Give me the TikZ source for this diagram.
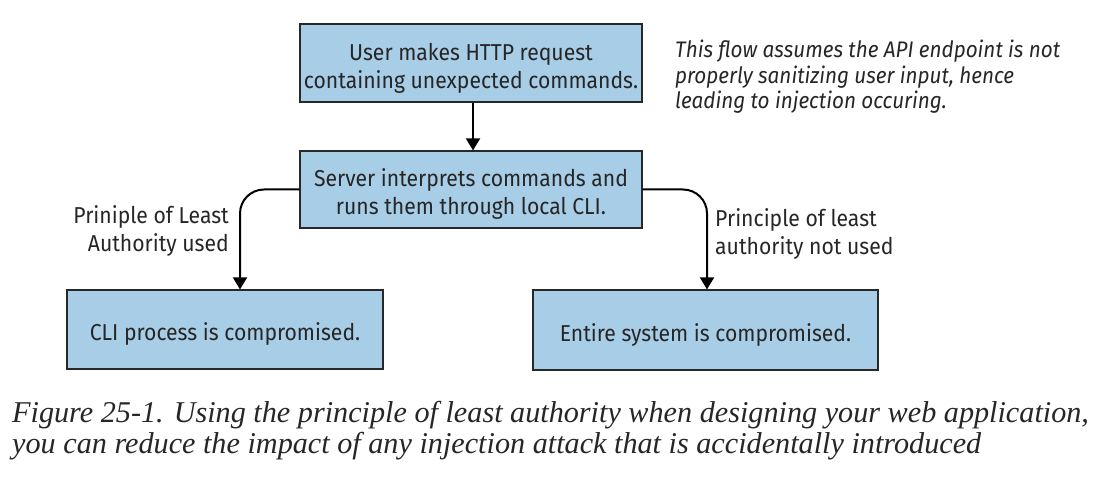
\documentclass[tikz,border=0pt]{standalone}
\usepackage{fontspec}
\setmainfont{Fira Sans}[FakeStretch=0.92]
\newfontfamily\capfont{Liberation Serif}
\usetikzlibrary{arrows.meta}
\definecolor{boxblue}{RGB}{168,205,230}
\definecolor{edge}{RGB}{40,40,40}
\newcommand\myupstrut{\rule{0pt}{27pt}}
\tikzset{
  box/.style={draw=edge, line width=1.2pt, fill=boxblue, align=center, inner sep=0pt,
    font=\fontsize{23}{28}\selectfont, text=black!85},
  conn/.style={line width=2pt, -{Triangle[width=14pt,length=12pt]}},
  lbl/.style={font=\fontsize{23}{28}\selectfont, inner sep=0pt, text=black!85},
}
\begin{document}
\begin{tikzpicture}[x=1pt,y=-1pt]
\useasboundingbox (0,0) rectangle (1110,489);
\node[box, minimum width=342pt, minimum height=78pt] (b1) at (471,63) {\myupstrut User makes HTTP request\\containing unexpected commands.};
\node[box, minimum width=342pt, minimum height=77pt] (b2) at (471,189.5) {\myupstrut Server interprets commands and\\runs them through local CLI.};
\node[box, minimum width=316pt, minimum height=79pt] (b3) at (225,329.5) {\myupstrut CLI process is compromised.};
\node[box, minimum width=345pt, minimum height=80pt] (b4) at (705.5,330) {\myupstrut Entire system is compromised.};
\coordinate (lt) at (240,189.5);
\coordinate (rt) at (707,189.5);
\draw[conn] (b1.south -| 473,0) -- (b2.north -| 473,0);
\draw[conn, rounded corners=24pt] (b2.west) -- (lt) -- (b3.north -| lt);
\draw[conn, rounded corners=24pt] (b2.east) -- (rt) -- (b4.north -| rt);
\node[lbl, align=right, anchor=north east] (l1) at (229,205) {Priniple of Least\\Authority used};
\node[lbl, align=left, anchor=north west] (l2) at (715,208) {Principle of least\\authority not used};
\node[lbl, align=left, anchor=north west, font=\fontsize{22.5}{25.5}\itshape\selectfont] (note) at (675,40) {This flow assumes the API endpoint is not\\properly sanitizing user input, hence\\leading to injection occuring.};
\node[anchor=north west, align=left, inner sep=0pt, font=\capfont\fontsize{30.2}{31}\itshape\selectfont, text=black!85] (cap) at (12,401) {Figure 25-1. Using the principle of least authority when designing your web application,\\you can reduce the impact of any injection attack that is accidentally introduced};
\end{tikzpicture}
\end{document}
